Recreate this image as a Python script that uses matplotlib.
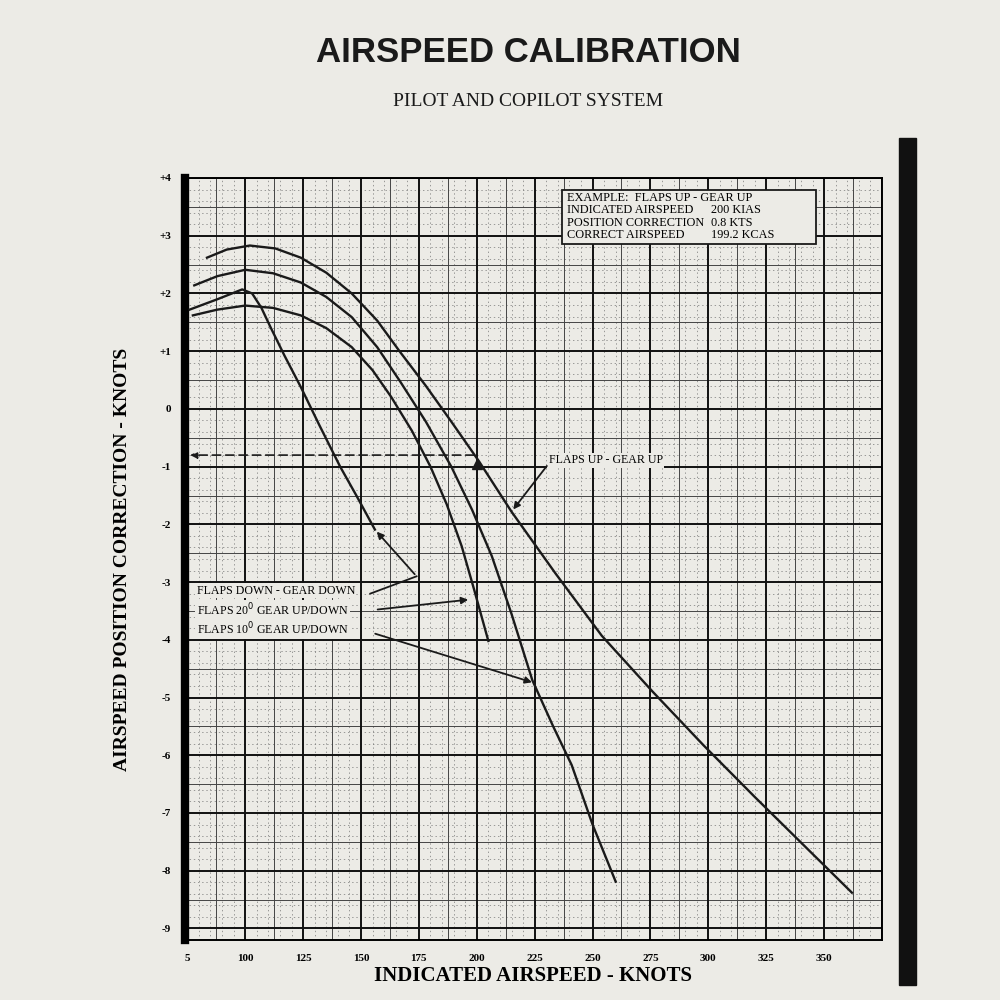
import matplotlib
matplotlib.use("Agg")
import matplotlib.pyplot as plt
import numpy as np

# data (knots IAS, correction knots)
up_x = [83.5, 92, 102, 113, 124, 135, 146, 157, 167, 178, 189, 201, 215, 234, 254, 276, 298, 320, 341, 362]
up_y = [2.62, 2.76, 2.83, 2.78, 2.62, 2.36, 2.0, 1.53, 0.98, 0.4, -0.22, -0.91, -1.78, -2.85, -3.93, -4.9, -5.83, -6.72, -7.55, -8.38]
f10_x = [78, 88, 100, 112, 124, 135, 146, 157, 167, 178, 189, 198, 206.5, 215, 224, 233, 241, 250, 260]
f10_y = [2.14, 2.3, 2.41, 2.35, 2.19, 1.94, 1.59, 1.07, 0.47, -0.22, -1.0, -1.75, -2.55, -3.55, -4.7, -5.5, -6.17, -7.2, -8.19]
fd_x = [76, 88, 98.7, 103, 107, 111, 117, 124, 132, 141, 148, 156]
fd_y = [1.72, 1.9, 2.07, 2.0, 1.75, 1.41, 0.92, 0.38, -0.28, -1.0, -1.5, -2.09]
f20_x = [77.4, 88, 100, 112, 124, 135, 146, 155, 163, 172, 180, 187, 193.5, 199, 205]
f20_y = [1.62, 1.72, 1.79, 1.75, 1.62, 1.4, 1.07, 0.67, 0.21, -0.38, -1.0, -1.65, -2.38, -3.15, -4.02]
ex_ias, ex_corr = 200, -0.8

x_ticks = [75, 100, 125, 150, 175, 200, 225, 250, 275, 300, 325, 350]
x_labels = ["5", "100", "125", "150", "175", "200", "225", "250", "275", "300", "325", "350"]
y_ticks = list(range(4, -10, -1))
y_labels = ["+4", "+3", "+2", "+1", "0", "-1", "-2", "-3", "-4", "-5", "-6", "-7", "-8", "-9"]
box_names = ["INDICATED AIRSPEED", "POSITION CORRECTION", "CORRECT AIRSPEED"]
box_vals = ["200 KIAS", "0.8 KTS", "199.2 KCAS"]

paper = "#ecebe6"
fig = plt.figure(figsize=(10, 10), dpi=100, facecolor=paper)
ax = fig.add_axes([0.185, 0.06, 0.697, 0.762])
ax.set_facecolor(paper)
ax.set_xlim(74, 375)
ax.set_ylim(-9.2, 4.0)

# grid
for v in np.arange(75, 376, 5):
    ax.axvline(v, color="#777", lw=0.5, ls=(0, (2, 4)), zorder=1)
for v in np.arange(-9, 4.01, 0.2):
    ax.axhline(v, color="#777", lw=0.5, ls=(0, (2, 4)), zorder=1)
for v in np.arange(87.5, 375, 25):
    ax.axvline(v, color="#444", lw=0.7, zorder=1)
for v in np.arange(-8.5, 4, 1):
    ax.axhline(v, color="#444", lw=0.7, zorder=1)
for v in range(75, 376, 25):
    ax.axvline(v, color="#111", lw=1.4, zorder=1)
for v in range(-9, 5):
    ax.axhline(v, color="#111", lw=1.4, zorder=1)

kw = dict(color="#1a1a1a", lw=1.7, zorder=3)
ax.plot(up_x, up_y, **kw)
ax.plot(f10_x, f10_y, **kw)
ax.plot(fd_x, fd_y, **kw)
ax.plot(f20_x, f20_y, **kw)

# example
ax.annotate("", xy=(75, ex_corr), xytext=(ex_ias, ex_corr),
            arrowprops=dict(arrowstyle="-|>", color="#1a1a1a", lw=1.2, ls=(0, (5, 3))), zorder=4)
ax.plot([ex_ias], [-0.95], marker="^", color="#1a1a1a", ms=7, zorder=5)

sf = "Liberation Serif"
bfs = 8.8
ax.add_patch(plt.Rectangle((237, 2.86), 109.5, 0.93, fc=paper, ec="#1a1a1a", lw=1.3, zorder=6))
ax.text(239, 3.66, "EXAMPLE:  FLAPS UP - GEAR UP", family=sf, fontsize=bfs, va="center", zorder=7)
for i, (n, v) in enumerate(zip(box_names, box_vals)):
    yy = 3.44 - i * 0.215
    ax.text(239, yy, n, family=sf, fontsize=bfs, va="center", zorder=7)
    ax.text(301, yy, v, family=sf, fontsize=bfs, va="center", zorder=7)

ak = dict(arrowstyle="-|>", color="#1a1a1a", lw=1.3)
ax.text(231, -0.89, "FLAPS UP - GEAR UP", family=sf, fontsize=8.6, ha="left", va="center",
        bbox=dict(fc=paper, ec="none", pad=1), zorder=6)
ax.annotate("", xy=(215, -1.78), xytext=(231, -0.95), arrowprops=ak, zorder=6)

ax.text(79, -3.15, "FLAPS DOWN - GEAR DOWN", family=sf, fontsize=8.6, ha="left", va="center",
        bbox=dict(fc=paper, ec="none", pad=1), zorder=6)
ax.plot([154, 174], [-3.2, -2.9], color="#1a1a1a", lw=1.3, zorder=6)
ax.annotate("", xy=(156, -2.09), xytext=(174, -2.9), arrowprops=ak, zorder=6)

ax.text(79, -3.48, "FLAPS 20$^{\\rm 0}$ GEAR UP/DOWN", family=sf, fontsize=8.6, ha="left",
        va="center", bbox=dict(fc=paper, ec="none", pad=1), zorder=6)
ax.annotate("", xy=(197.5, -3.3), xytext=(156, -3.48), arrowprops=ak, zorder=6)

ax.text(79, -3.82, "FLAPS 10$^{\\rm 0}$ GEAR UP/DOWN", family=sf, fontsize=8.6, ha="left",
        va="center", bbox=dict(fc=paper, ec="none", pad=1), zorder=6)
ax.annotate("", xy=(225, -4.75), xytext=(155, -3.88), arrowprops=ak, zorder=6)

ax.set_xticks(x_ticks, x_labels)
ax.set_yticks(y_ticks, y_labels)
ax.tick_params(length=0, labelsize=8, pad=10)
for l in ax.get_xticklabels() + ax.get_yticklabels():
    l.set_family(sf)
    l.set_fontweight("bold")
for s in ax.spines.values():
    s.set_linewidth(1.4)
ax.spines["left"].set_linewidth(6)

ax.set_xlabel("INDICATED AIRSPEED - KNOTS", family=sf, fontsize=15, fontweight="bold", labelpad=2)
ax.set_ylabel("AIRSPEED POSITION CORRECTION - KNOTS", family=sf, fontsize=14,
              fontweight="bold", labelpad=20)

fig.text(0.528, 0.948, "AIRSPEED CALIBRATION", ha="center", va="center", fontsize=25,
         family="Liberation Sans", fontweight="bold", color="#1a1a1a")
fig.text(0.528, 0.898, "PILOT AND COPILOT SYSTEM", ha="center", va="center", fontsize=14,
         family=sf, color="#1a1a1a")
fig.add_artist(plt.Rectangle((0.899, 0.015), 0.017, 0.847, transform=fig.transFigure,
                             color="#111"))
fig.savefig("out.png", dpi=100, facecolor=paper)
